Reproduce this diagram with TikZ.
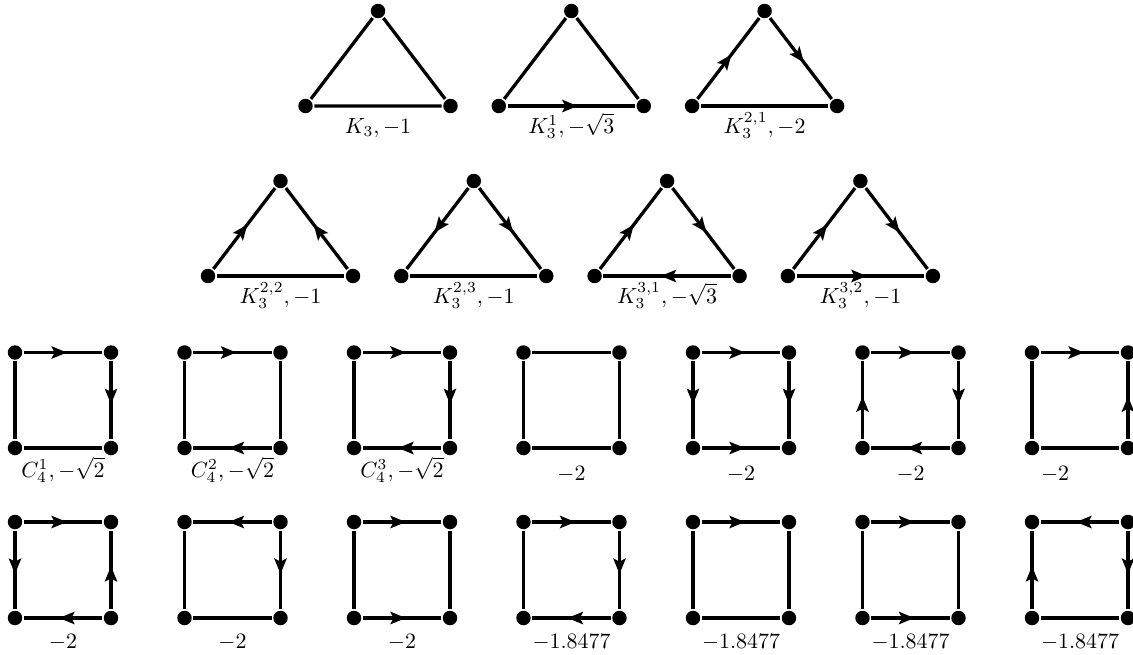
\documentclass[tikz,border=0pt]{standalone}
\usetikzlibrary{arrows.meta,decorations.markings}
\begin{document}
\begin{tikzpicture}[x=0.456pt, y=-0.456pt, line width=1.5pt,
    dot/.style = {circle, fill, inner sep=0pt, minimum size=6.6pt},
    mid/.style = {postaction={decorate}, decoration={markings,
        mark=at position 0.55 with {\arrow{Stealth[length=7pt,width=5.6pt,inset=1.4pt]}}}},
    lab/.style = {anchor=base, inner sep=0pt}]
    \useasboundingbox (0,0) rectangle (1133,654);

    % triangles, first row
    \foreach \n/\x in {A/305.5, B/498.8, C/692.1} {
        \node[dot] (\n-l) at (\x,106) {};
        \node[dot] (\n-t) at (\x+72.5,11) {};
        \node[dot] (\n-r) at (\x+145,106) {};
    }
    \draw (A-l) -- (A-t) -- (A-r) -- (A-l);
    \draw (B-l) -- (B-t) -- (B-r);
    \draw[mid] (B-l) -- (B-r);
    \draw[mid] (C-l) -- (C-t);
    \draw[mid] (C-t) -- (C-r);
    \draw (C-l) -- (C-r);
    \node[lab] (A-lab) at (378,133) {$K_3,-1$};
    \node[lab] (B-lab) at (571.3,133) {$K_3^1,-\sqrt{3}$};
    \node[lab] (C-lab) at (764.6,133) {$K_3^{2,1},-2$};

    % triangles, second row
    \foreach \n/\x in {D/208, E/401.3, F/594.6, G/787.9} {
        \node[dot] (\n-l) at (\x,276) {};
        \node[dot] (\n-t) at (\x+72.5,181) {};
        \node[dot] (\n-r) at (\x+145,276) {};
    }
    \draw[mid] (D-l) -- (D-t);
    \draw[mid] (D-r) -- (D-t);
    \draw (D-l) -- (D-r);
    \draw[mid] (E-t) -- (E-l);
    \draw[mid] (E-t) -- (E-r);
    \draw (E-l) -- (E-r);
    \draw[mid] (F-l) -- (F-t);
    \draw[mid] (F-t) -- (F-r);
    \draw[mid] (F-r) -- (F-l);
    \draw[mid] (G-l) -- (G-t);
    \draw[mid] (G-t) -- (G-r);
    \draw[mid] (G-l) -- (G-r);
    \node[lab] (D-lab) at (280.5,303) {$K_3^{2,2},-1$};
    \node[lab] (E-lab) at (473.8,303) {$K_3^{2,3},-1$};
    \node[lab] (F-lab) at (667.1,303) {$K_3^{3,1},-\sqrt{3}$};
    \node[lab] (G-lab) at (860.4,303) {$K_3^{3,2},-1$};

    % squares, third row
    \foreach \n/\x in {P1/15, P2/184.5, P3/354, P4/523.5, P5/693, P6/862.5, P7/1032} {
        \node[dot] (\n-nw) at (\x,352.5) {};
        \node[dot] (\n-ne) at (\x+96,352.5) {};
        \node[dot] (\n-sw) at (\x,448) {};
        \node[dot] (\n-se) at (\x+96,448) {};
    }
    \draw[mid] (P1-nw) -- (P1-ne);
    \draw[mid] (P1-ne) -- (P1-se);
    \draw (P1-se) -- (P1-sw) -- (P1-nw);
    \draw[mid] (P2-nw) -- (P2-ne);
    \draw[mid] (P2-se) -- (P2-sw);
    \draw (P2-ne) -- (P2-se);
    \draw (P2-sw) -- (P2-nw);
    \draw[mid] (P3-nw) -- (P3-ne);
    \draw[mid] (P3-ne) -- (P3-se);
    \draw[mid] (P3-se) -- (P3-sw);
    \draw (P3-sw) -- (P3-nw);
    \draw (P4-nw) -- (P4-ne) -- (P4-se) -- (P4-sw) -- (P4-nw);
    \draw[mid] (P5-nw) -- (P5-ne);
    \draw[mid] (P5-nw) -- (P5-sw);
    \draw[mid] (P5-ne) -- (P5-se);
    \draw[mid] (P5-sw) -- (P5-se);
    \draw[mid] (P6-nw) -- (P6-ne);
    \draw[mid] (P6-ne) -- (P6-se);
    \draw[mid] (P6-se) -- (P6-sw);
    \draw[mid] (P6-sw) -- (P6-nw);
    \draw[mid] (P7-nw) -- (P7-ne);
    \draw[mid] (P7-se) -- (P7-ne);
    \draw (P7-se) -- (P7-sw) -- (P7-nw);
    \node[lab] (P1-lab) at (63,477) {$C_4^1,-\sqrt{2}$};
    \node[lab] (P2-lab) at (232.5,477) {$C_4^2,-\sqrt{2}$};
    \node[lab] (P3-lab) at (402,477) {$C_4^3,-\sqrt{2}$};
    \node[lab] (P4-lab) at (571.5,480) {$-2$};
    \node[lab] (P5-lab) at (741,480) {$-2$};
    \node[lab] (P6-lab) at (910.5,480) {$-2$};
    \node[lab] (P7-lab) at (1055,480) {$-2$};

    % squares, fourth row
    \foreach \n/\x in {Q1/15, Q2/184.5, Q3/354, Q4/523.5, Q5/693, Q6/862.5, Q7/1032} {
        \node[dot] (\n-nw) at (\x,522) {};
        \node[dot] (\n-ne) at (\x+96,522) {};
        \node[dot] (\n-sw) at (\x,618) {};
        \node[dot] (\n-se) at (\x+96,618) {};
    }
    \draw[mid] (Q1-nw) -- (Q1-ne);
    \draw[mid] (Q1-nw) -- (Q1-sw);
    \draw[mid] (Q1-se) -- (Q1-sw);
    \draw[mid] (Q1-se) -- (Q1-ne);
    \draw[mid] (Q2-ne) -- (Q2-nw);
    \draw[mid] (Q2-ne) -- (Q2-se);
    \draw (Q2-se) -- (Q2-sw) -- (Q2-nw);
    \draw[mid] (Q3-nw) -- (Q3-ne);
    \draw[mid] (Q3-sw) -- (Q3-se);
    \draw (Q3-ne) -- (Q3-se);
    \draw (Q3-sw) -- (Q3-nw);
    \draw[mid] (Q4-nw) -- (Q4-ne);
    \draw[mid] (Q4-ne) -- (Q4-se);
    \draw[mid] (Q4-se) -- (Q4-sw);
    \draw (Q4-sw) -- (Q4-nw);
    \draw[mid] (Q5-nw) -- (Q5-ne);
    \draw (Q5-ne) -- (Q5-se) -- (Q5-sw) -- (Q5-nw);
    \draw[mid] (Q6-nw) -- (Q6-ne);
    \draw[mid] (Q6-sw) -- (Q6-se);
    \draw (Q6-ne) -- (Q6-se);
    \draw (Q6-sw) -- (Q6-nw);
    \draw[mid] (Q7-ne) -- (Q7-nw);
    \draw[mid] (Q7-ne) -- (Q7-se);
    \draw[mid] (Q7-sw) -- (Q7-nw);
    \draw (Q7-sw) -- (Q7-se);
    \node[lab] (Q1-lab) at (63,648) {$-2$};
    \node[lab] (Q2-lab) at (232.5,648) {$-2$};
    \node[lab] (Q3-lab) at (402,648) {$-2$};
    \node[lab] (Q4-lab) at (571.5,648) {$-1.8477$};
    \node[lab] (Q5-lab) at (741,648) {$-1.8477$};
    \node[lab] (Q6-lab) at (910.5,648) {$-1.8477$};
    \node[lab] (Q7-lab) at (1080,648) {$-1.8477$};
\end{tikzpicture}
\end{document}
